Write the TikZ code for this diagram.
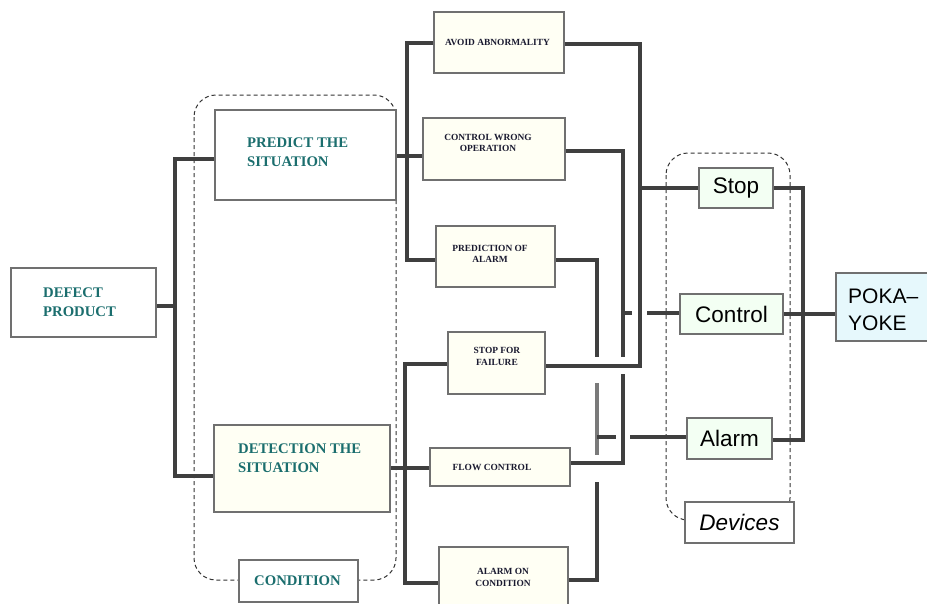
\documentclass[tikz,border=0pt]{standalone}
\usepackage{fontspec}
\setmainfont{Liberation Serif}
\newfontfamily\devfont{Liberation Sans}
\definecolor{linec}{HTML}{3F3F3F}
\definecolor{lightc}{HTML}{7A7A7A}
\definecolor{boxc}{HTML}{707070}
\definecolor{boxfill}{HTML}{FFFFF4}
\definecolor{devfill}{HTML}{F3FFF3}
\definecolor{pokafill}{HTML}{E6F8FC}
\definecolor{tealc}{HTML}{1B6E6E}
\definecolor{smallc}{HTML}{1A1A30}
\definecolor{grpc}{HTML}{333333}
\tikzset{
  conn/.style={line width=4pt, draw=linec},
  box/.style={draw=boxc, line width=1.5pt, fill=boxfill, inner sep=0pt},
  tealtxt/.style={text=tealc, font=\bfseries\fontsize{14.7}{19}\selectfont, align=left, inner sep=0pt, anchor=west},
  smalltxt/.style={text=smallc, font=\bfseries\fontsize{9.4}{11.5}\selectfont, align=center, inner sep=0pt},
  devbox/.style={box, fill=devfill, text=black, font=\devfont\fontsize{22.5}{25}\selectfont},
  grp/.style={draw=grpc, line width=1pt, dash pattern=on 4pt off 3pt, rounded corners=22pt}
}
\begin{document}
\begin{tikzpicture}[x=1pt,y=-1pt]
\useasboundingbox (0,0) rectangle (927,603);
% groups
\draw[grp] (194,95) rectangle (396,580);
\draw[grp] (666,153) rectangle (790,520);
% boxes
\node[box, fill=white, minimum width=145, minimum height=69] (defect) at (83.5,302.5) {};
\node[box, fill=white, minimum width=181, minimum height=90] (predict) at (305.5,155) {};
\node[box, minimum width=176, minimum height=87] (detect) at (302,468.5) {};
\node[box, fill=white, minimum width=119, minimum height=42] (cond) at (298.5,581) {};
\node[box, minimum width=130, minimum height=61] (avoid) at (499,42.5) {};
\node[box, minimum width=142, minimum height=62] (cwo) at (494,149) {};
\node[box, minimum width=119, minimum height=61] (predalarm) at (495.5,256.5) {};
\node[box, minimum width=97, minimum height=62] (sff) at (496.5,363) {};
\node[box, minimum width=140, minimum height=38] (flow) at (500,467) {};
\node[box, minimum width=129, minimum height=59] (aoc) at (503.5,576.5) {};
\node[devbox, minimum width=74, minimum height=40] (stop) at (736,188) {Stop};
\node[devbox, minimum width=103, minimum height=40] (control) at (731.5,314) {Control};
\node[devbox, minimum width=85, minimum height=41] (alarm) at (729.5,438.5) {Alarm};
\node[devbox, fill=white, minimum width=109, minimum height=41, font=\devfont\itshape\fontsize{22.5}{25}\selectfont] (devices) at (739.5,522.5) {Devices};
\node[box, fill=pokafill, minimum width=94, minimum height=68] (poka) at (883,307) {};
% texts
\node[tealtxt] (defect-t) at (43,302) {DEFECT\\PRODUCT};
\node[tealtxt] (predict-t) at (247,152) {PREDICT THE\\SITUATION};
\node[tealtxt] (detect-t) at (238,458) {DETECTION THE\\SITUATION};
\node[tealtxt, anchor=center] (cond-t) at (297.5,581) {CONDITION};
\node[smalltxt] (avoid-t) at (497.5,42) {AVOID ABNORMALITY};
\node[smalltxt] (cwo-t) at (488,143) {CONTROL WRONG\\OPERATION};
\node[smalltxt] (predalarm-t) at (490,254) {PREDICTION OF\\ALARM};
\node[smalltxt] (sff-t) at (497,356.5) {STOP FOR\\FAILURE};
\node[smalltxt] (flow-t) at (492,467) {FLOW CONTROL};
\node[smalltxt] (aoc-t) at (503,577.5) {ALARM ON\\CONDITION};
\node[inner sep=0pt, anchor=west, align=left, font=\devfont\fontsize{21}{27}\selectfont] (poka-t) at (848,309.5) {POKA–\\YOKE};
% connectors: left tree
\coordinate (b1) at (175,306);
\draw[conn] (defect.east |- b1) -- (b1);
\draw[conn] ([yshift=-4pt]predict.west) -| (b1) |- ([yshift=-7.5pt]detect.west);
\coordinate (b2) at (407,156);
\draw[conn] (predict.east |- b2) -- (cwo.west |- b2);
\draw[conn] (avoid.west) -| (b2) |- ([yshift=-3.5pt]predalarm.west);
\coordinate (b3) at (405,468);
\draw[conn] (detect.east |- b3) -- (flow.west |- b3);
\draw[conn] ([yshift=-1pt]sff.west) -| (b3) |- ([yshift=-6.5pt]aoc.west);
% stop bus
\coordinate (b4) at (640,366);
\draw[conn] ([yshift=-1.5pt]avoid.east) -| (b4) -- (b4 -| sff.east);
\draw[conn] (b4 |- stop.west) -- (stop.west);
% control bus
\coordinate (c1) at (623,357);
\coordinate (c2) at (623,374);
\coordinate (c3) at (623,463);
\draw[conn] ([yshift=-2pt]cwo.east) -| (c1);
\draw[conn] (c2) -- (c3) -- (c3 -| flow.east);
\coordinate (c4) at (632,313);
\coordinate (c5) at (647,313);
\draw[conn] (c4 -| c1) -- (c4);
\draw[conn] (c5) -- (c5 -| control.west);
% alarm bus
\coordinate (a1) at (597,357);
\coordinate (a2) at (597,383);
\coordinate (a3) at (597,455);
\coordinate (a4) at (597,482);
\coordinate (a5) at (597,580);
\draw[conn] ([yshift=-3.5pt]predalarm.east) -| (a1);
\draw[conn, draw=lightc] (a2) -- (a3);
\draw[conn] (a4) -- (a5) -- (a5 -| aoc.east);
\coordinate (a6) at (616,437);
\coordinate (a7) at (630,437);
\draw[conn] (a6 -| a1) -- (a6);
\draw[conn] (a7) -- (a7 -| alarm.west);
% output
\coordinate (o1) at (803,440);
\draw[conn] (stop.east) -| (o1) -- (o1 -| alarm.east);
\draw[conn] (control.east) -- (control.east -| poka.west);
\end{tikzpicture}
\end{document}
